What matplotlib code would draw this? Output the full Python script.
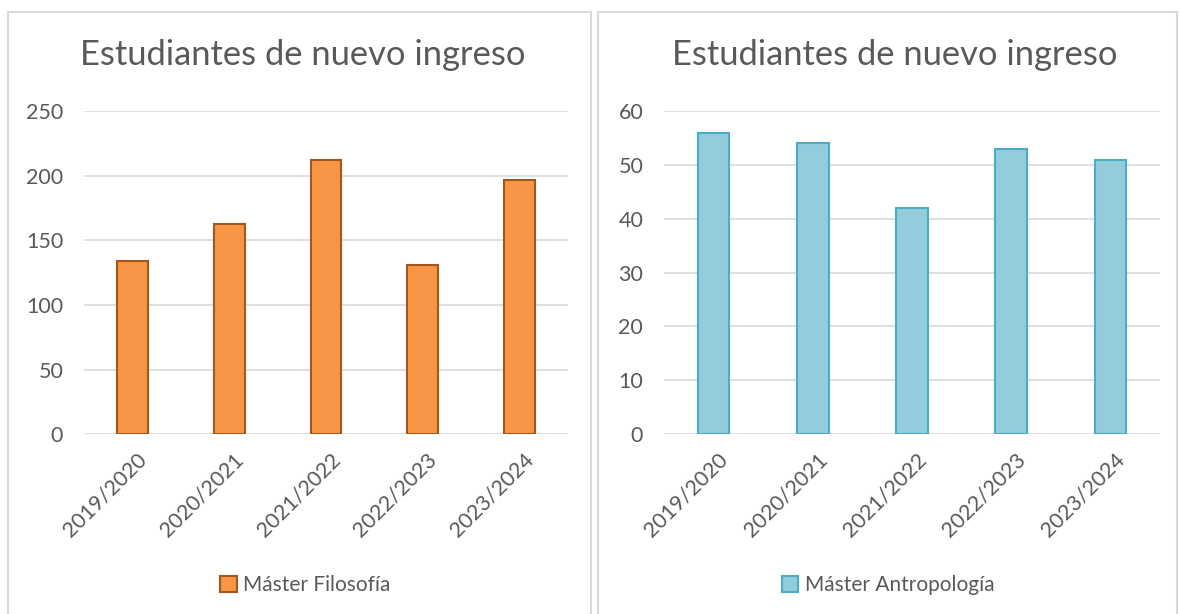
import numpy as np
import matplotlib
matplotlib.use("Agg")
import matplotlib.pyplot as plt
import matplotlib.transforms as mtransforms
from matplotlib.patches import Rectangle, Patch

plt.rcParams['font.family'] = ['Lato', 'DejaVu Sans']

years = ['2019/2020', '2020/2021', '2021/2022', '2022/2023', '2023/2024']
filosofia = [134, 163, 212, 131, 197]
antropologia = [56, 54, 42, 53, 51]
title = 'Estudiantes de nuevo ingreso'

txt = '#595959'
grid = '#d9d9d9'

fig = plt.figure(figsize=(11.8, 6.14), dpi=100)
fig.patch.set_facecolor('white')

# panel frames
for x0, x1 in [(8, 591), (598, 1177)]:
    fig.patches.append(Rectangle((x0 / 1180, -0.01), (x1 - x0) / 1180, (614 - 12) / 614 + 0.01,
                                 transform=fig.transFigure, fill=False,
                                 edgecolor='#d9d9d9', linewidth=1.5))

panels = [
    dict(ax=[84 / 1180, 0.293, 484 / 1180, 0.526], vals=filosofia, ymax=250, step=50,
         fc='#F79646', ec='#A5561A', label='Máster Filosofía', cx=305, tx=303),
    dict(ax=[664 / 1180, 0.293, 496 / 1180, 0.526], vals=antropologia, ymax=60, step=10,
         fc='#93CDDD', ec='#4BACC6', label='Máster Antropología', cx=888, tx=895),
]

for p in panels:
    ax = fig.add_axes(p['ax'])
    x = np.arange(len(years))
    ax.bar(x, p['vals'], width=0.32, color=p['fc'], edgecolor=p['ec'], linewidth=1.5, zorder=3)
    ax.set_xlim(-0.5, len(years) - 0.5)
    ax.set_ylim(0, p['ymax'])
    ax.set_yticks(np.arange(0, p['ymax'] + 1, p['step']))
    ax.yaxis.grid(True, color=grid, linewidth=1.2, zorder=0)
    ax.set_axisbelow(True)
    for s in ax.spines.values():
        s.set_visible(False)
    ax.tick_params(length=0, labelsize=15.5, labelcolor=txt)
    ax.tick_params(axis='y', pad=15)
    ax.set_xticks(x)
    ax.set_xticklabels(years, rotation=45, ha='right', rotation_mode='anchor', fontsize=15.5)
    ax.tick_params(axis='x', pad=11)
    off = mtransforms.ScaledTranslation(4 / 100, 0, fig.dpi_scale_trans)
    for lab in ax.get_xticklabels():
        lab.set_transform(lab.get_transform() + off)
    fig.text(p['tx'] / 1180, 1 - 55 / 614, title, fontsize=24.8, color=txt, ha='center', va='center')
    fig.legend(handles=[Patch(facecolor=p['fc'], edgecolor=p['ec'], linewidth=1.5, label=p['label'])],
               loc='center', bbox_to_anchor=(p['cx'] / 1180, 1 - 585 / 614), frameon=False,
               fontsize=15, handlelength=0.8, handleheight=0.8, handletextpad=0.3,
               labelcolor=txt)

fig.savefig('out.png', dpi=100)
